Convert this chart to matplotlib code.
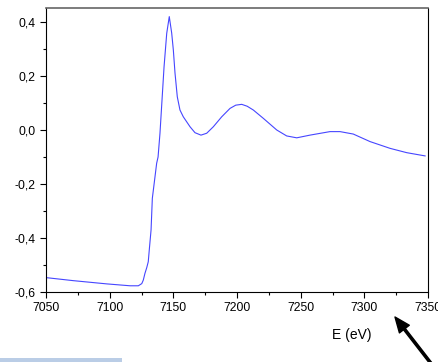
import matplotlib
matplotlib.use("AGG")
from matplotlib import pyplot as plt
from matplotlib.ticker import MultipleLocator, FuncFormatter
from matplotlib.patches import Rectangle

plt.rcParams['font.family'] = ['Liberation Sans', 'DejaVu Sans']

# XANES spectrum
energy = [7050.5, 7071.4, 7097.7, 7116.0, 7121.2, 7122.5, 7125.2, 7126.4, 7127.7,
          7129.1, 7130.3, 7131.1, 7132.5, 7133.5, 7136.9, 7138.0, 7139.5, 7141.1,
          7142.7, 7144.8, 7146.8, 7148.7, 7150.0, 7151.3, 7153.1, 7155.2, 7157.8,
          7163.1, 7167.0, 7171.7, 7176.2, 7181.4, 7188.0, 7194.5, 7199.0, 7203.7,
          7208.0, 7212.8, 7220.7, 7231.2, 7239.0, 7246.9, 7257.3, 7273.0, 7280.9,
          7291.3, 7304.5, 7320.2, 7333.3, 7347.7]
signal = [-0.547, -0.558, -0.570, -0.577, -0.577, -0.577, -0.569, -0.556, -0.531,
          -0.510, -0.488, -0.444, -0.370, -0.253, -0.123, -0.100, -0.012, 0.111,
          0.234, 0.358, 0.420, 0.359, 0.296, 0.211, 0.123, 0.074, 0.049,
          0.012, -0.010, -0.019, -0.012, 0.012, 0.049, 0.080, 0.092, 0.095,
          0.088, 0.074, 0.043, 0.000, -0.022, -0.029, -0.019, -0.006, -0.006,
          -0.015, -0.043, -0.068, -0.084, -0.096]

fig = plt.figure(figsize=(4.39, 3.62), dpi=100)
ax = fig.add_axes([0.1048, 0.1934, 0.8702, 0.7846])

ax.plot(energy, signal, color='#4646ff', linewidth=0.8)

ax.set_xlim(7050, 7350)
ax.set_ylim(-0.6, 0.452)
ax.xaxis.set_major_locator(MultipleLocator(50))
ax.xaxis.set_minor_locator(MultipleLocator(25))
ax.yaxis.set_major_locator(MultipleLocator(0.2))
ax.yaxis.set_minor_locator(MultipleLocator(0.1))
ax.yaxis.set_major_formatter(FuncFormatter(lambda v, p: ('%.1f' % v).replace('.', ',')))
ax.tick_params(which='major', direction='out', length=4, width=0.8, labelsize=8.7)
ax.tick_params(which='minor', direction='out', length=2.5, width=0.8)
ax.spines['top'].set_color('#666666')
ax.spines['top'].set_linewidth(1.2)

fig.text(352 / 439, 1 - 335 / 362, 'E (eV)', fontsize=10, ha='center', va='center')

# arrow pointing at the axis label area
ax.annotate('', xy=(395 / 439, 1 - 317 / 362), xycoords='figure fraction',
            xytext=(440 / 439, 1 - 375 / 362), textcoords='figure fraction',
            arrowprops=dict(facecolor='black', edgecolor='black', width=1.6,
                            headwidth=9, headlength=11),
            annotation_clip=False)

# pale blue strip at the bottom left
fig.patches.append(Rectangle((0, 0), 122 / 439, 4 / 362, transform=fig.transFigure,
                             facecolor='#bacde6', edgecolor='none'))

plt.savefig("out.png", dpi=100)
